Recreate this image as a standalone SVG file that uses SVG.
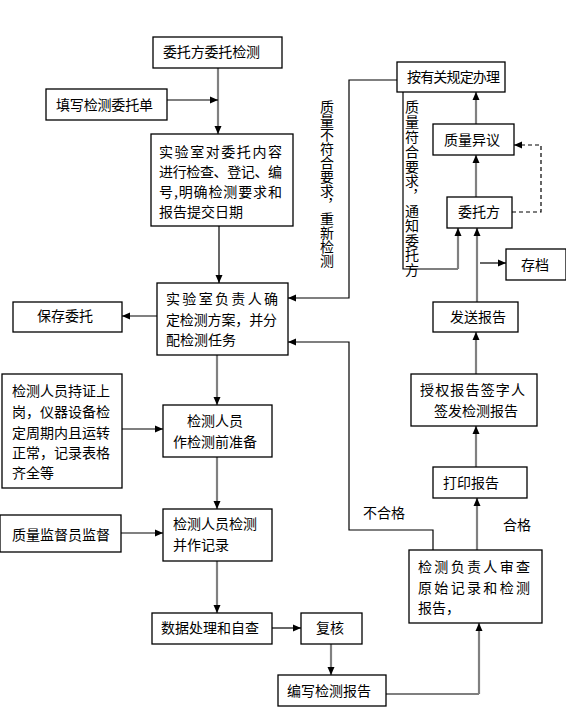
<svg xmlns="http://www.w3.org/2000/svg" width="566" height="707" viewBox="0 0 566 707">
<defs>
<marker id="ah" markerUnits="userSpaceOnUse" markerWidth="8" markerHeight="8" refX="8" refY="4" orient="auto">
<path d="M0,0.5 L8,4 L0,7.5 z" fill="#000"/>
</marker>
<style>
rect{fill:#fff;stroke:#000;stroke-width:1.3}
text{font-family:"Noto Sans CJK SC","Noto Sans",sans-serif;font-size:14px;fill:#000}
.g{fill:none;stroke:#808080;stroke-width:2.2}
.b{fill:none;stroke:#000;stroke-width:1.2}
.d{fill:none;stroke:#000;stroke-width:1.2;stroke-dasharray:4,3}
.a{marker-end:url(#ah)}
.m{text-anchor:middle}
.v{writing-mode:vertical-rl}
</style>
</defs>
<rect x="0" y="0" width="566" height="707" style="fill:#fff;stroke:none"/>

<g id="connectors">
<path class="g a" d="M218,68 V134"/>
<path class="b a" d="M167,100 H218"/>
<path class="b a" d="M219,226 V283"/>
<path class="g a" d="M157,316 H122"/>
<path class="g a" d="M217,355 V405"/>
<path class="b a" d="M122,429 H163"/>
<path class="g a" d="M217,457 V509"/>
<path class="g a" d="M121,533 H163"/>
<path class="g a" d="M217,561 V613"/>
<path class="b a" d="M272,628 H301"/>
<path class="g a" d="M331,644 V675"/>
<path class="b" d="M386,694 H479"/>
<path class="g a" d="M479,694 V623"/>
<path class="g a" d="M477,550 V498"/>
<path class="b a" d="M433,550 V530 H349 V342 H288"/>
<path class="g a" d="M476,467 V426"/>
<path class="g a" d="M476,374 V332"/>
<path class="g a" d="M477,302 V228"/>
<path class="b a" d="M480,263 H506"/>
<path class="g a" d="M476,197 V155"/>
<path class="g a" d="M476,124 V92"/>
<path class="b" d="M403,92 V269 H458"/>
<path class="g a" d="M458,269 V228"/>
<path class="b a" d="M397,80 H349 V298 H288"/>
<path class="d a" d="M512,212 H541 V145 H514"/>
</g>

<g id="n1"><rect x="153" y="37" width="129" height="31"/><text x="163" y="57" textLength="97">委托方委托检测</text></g>
<g id="n2"><rect x="46" y="89" width="121" height="31"/><text x="56" y="110" textLength="97">填写检测委托单</text></g>
<g id="n3"><rect x="151" y="134" width="142" height="92"/>
<text x="159" y="157" textLength="123">实验室对委托内容</text>
<text x="159" y="177" textLength="123">进行检查、登记、编</text>
<text x="159" y="197" textLength="123">号,明确检测要求和</text>
<text x="159" y="217">报告提交日期</text></g>
<g id="n4"><rect x="157" y="283" width="131" height="72"/>
<text x="166" y="304" textLength="112">实验室负责人确</text>
<text x="166" y="325" textLength="111">定检测方案，并分</text>
<text x="166" y="345">配检测任务</text></g>
<g id="n5"><rect x="13" y="302" width="109" height="30"/><text x="37" y="321">保存委托</text></g>
<g id="n6"><rect x="2" y="374" width="120" height="114"/>
<text x="12" y="396">检测人员持证上</text>
<text x="12" y="417">岗，仪器设备检</text>
<text x="12" y="438">定周期内且运转</text>
<text x="12" y="458">正常，记录表格</text>
<text x="12" y="478">齐全等</text></g>
<g id="n7"><rect x="163" y="405" width="109" height="52"/>
<text class="m" x="215" y="426">检测人员</text>
<text class="m" x="215" y="447">作检测前准备</text></g>
<g id="n8"><rect x="0" y="515" width="121" height="37"/><text x="12" y="540">质量监督员监督</text></g>
<g id="n9"><rect x="163" y="509" width="109" height="52"/>
<text x="173" y="529">检测人员检测</text>
<text x="173" y="550">并作记录</text></g>
<g id="n10"><rect x="152" y="613" width="120" height="31"/><text x="161" y="633">数据处理和自查</text></g>
<g id="n11"><rect x="301" y="613" width="61" height="31"/><text class="m" x="330" y="633">复核</text></g>
<g id="n12"><rect x="278" y="675" width="108" height="31"/><text x="287" y="696">编写检测报告</text></g>
<g id="n13"><rect x="409" y="550" width="133" height="73"/>
<text x="418" y="572" textLength="112">检测负责人审查</text>
<text x="418" y="593" textLength="112">原始记录和检测</text>
<text x="418" y="613">报告，</text></g>
<g id="n14"><rect x="433" y="467" width="94" height="31"/><text x="443" y="488">打印报告</text></g>
<g id="n15"><rect x="411" y="374" width="126" height="52"/>
<text x="420" y="395" textLength="105">授权报告签字人</text>
<text x="434" y="416">签发检测报告</text></g>
<g id="n16"><rect x="433" y="302" width="85" height="30"/><text x="450" y="322">发送报告</text></g>
<g id="n17"><rect x="447" y="197" width="65" height="31"/><text class="m" x="479" y="217">委托方</text></g>
<g id="n18"><rect x="506" y="249" width="60" height="31"/><text class="m" x="535" y="270">存档</text></g>
<g id="n19"><rect x="433" y="124" width="81" height="31"/><text x="444" y="145">质量异议</text></g>
<g id="n20"><rect x="397" y="62" width="108" height="30"/><text x="407" y="82" textLength="93">按有关规定办理</text></g>

<g id="labels">
<text class="v" x="327" y="100">质量不符合要求，重新检测</text>
<text class="v" x="412" y="100" textLength="177">质量符合要求，通知委托方</text>
<text x="363" y="518">不合格</text>
<text x="503" y="530">合格</text>
</g>
</svg>
